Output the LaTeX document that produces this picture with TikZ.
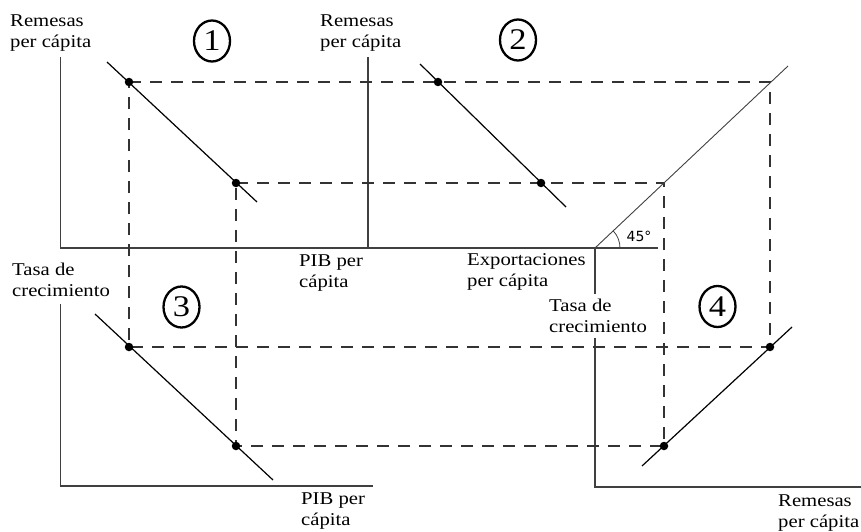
\documentclass[tikz,border=0pt]{standalone}
\usepackage{fontspec}
\setmainfont{Liberation Serif}[FakeStretch=1.15]
\newfontfamily\degfont{DejaVu Sans}
\usetikzlibrary{shapes.geometric,angles}

\begin{document}
\begin{tikzpicture}[
  x=1pt, y=-1pt,
  axis/.style={draw=black!75, line width=1.3pt},
  curve/.style={draw, line width=1.2pt},
  guide/.style={draw=black!80, line width=1.1pt, dash pattern=on 12pt off 9pt},
  dot/.style={circle, fill, inner sep=0pt, minimum size=8.5pt},
  tag/.style={draw, ellipse, line width=2.3pt, inner sep=0pt,
              minimum width=36pt, minimum height=41pt,
              font=\fontsize{30}{30}\selectfont},
  lbl/.style={anchor=north west, align=left, inner sep=0pt,
              font=\fontsize{18}{21}\selectfont}
]
  \useasboundingbox (0,0) rectangle (861,532);

  % axes
  \coordinate (y1)  at (60.5,57);
  \coordinate (o1)  at (60.5,248);
  \coordinate (y2)  at (368,57);
  \coordinate (o2)  at (368,248);
  \coordinate (o45) at (595,248);
  \coordinate (e45) at (658,248);
  \coordinate (y3)  at (60.5,304);
  \coordinate (o3)  at (60.5,486);
  \coordinate (x3)  at (373,486);
  \coordinate (o4)  at (595,487);
  \coordinate (x4)  at (861,487);
  \draw[axis] (y1) -- (o1) -- (e45);
  \draw[axis] (y2) -- (o2);
  \draw[axis] (o45) -- (o4) -- (x4);
  \draw[axis] (y3) -- (o3) -- (x3);

  % points
  \coordinate (a1)  at (129,82);
  \coordinate (b1)  at (236,183);
  \coordinate (a2)  at (438,82);
  \coordinate (b2)  at (541,183);
  \coordinate (a45) at (770,82);
  \coordinate (b45) at (664,183);
  \coordinate (a3)  at (129,347);
  \coordinate (b3)  at (236,446);
  \coordinate (a4)  at (770,347);
  \coordinate (b4)  at (664,446);

  % guides
  \draw[guide] (a1) -- (a2) -- (a45) -- (a4) -- (a3) -- cycle;
  \draw[guide] (b1) -- (b2) -- (b45) -- (b4) -- (b3) -- cycle;

  % curves
  \coordinate (c1s) at (107,62);  \coordinate (c1e) at (257,202);
  \coordinate (c2s) at (420,64);  \coordinate (c2e) at (566,207);
  \coordinate (c3s) at (95,314);  \coordinate (c3e) at (273,480);
  \coordinate (c4s) at (642,466); \coordinate (c4e) at (792,327);
  \coordinate (c45) at (788,66);
  \draw[curve] (c1s) -- (c1e);
  \draw[curve] (c2s) -- (c2e);
  \draw[curve] (c3s) -- (c3e);
  \draw[curve] (c4s) -- (c4e);
  \draw[axis, line width=0.9pt] (o45) -- (c45);
  \pic[draw=black!75, line width=0.8pt, angle radius=25pt] {angle = e45--o45--c45};
  \node[font=\degfont\fontsize{14}{14}\selectfont] (deg) at (639,236) {45°};

  \foreach \p in {a1,b1,a2,b2,a3,b3,a4,b4}
    \node[dot] (d\p) at (\p) {};

  % panel numbers
  \node[tag] (t1) at (212,41)      {1};
  \node[tag] (t2) at (518,40)      {2};
  \node[tag] (t3) at (181.5,307)   {3};
  \node[tag] (t4) at (717.5,306.5) {4};

  % axis labels
  \node[lbl] (ly1) at (10,15)   {Remesas\\per cápita};
  \node[lbl] (ly2) at (320,15)  {Remesas\\per cápita};
  \node[lbl] (lx1) at (299,255) {PIB per\\cápita};
  \node[lbl] (lx2) at (467,253) {Exportaciones\\per cápita};
  \node[lbl] (ly3) at (12,263)  {Tasa de\\crecimiento};
  \node[lbl, fill=white, inner ysep=5pt, inner xsep=2pt] (ly4) at (547,294)
       {Tasa de\\crecimiento};
  \node[lbl] (lx3) at (301,493) {PIB per\\cápita};
  \node[lbl] (lx4) at (778,495) {Remesas\\per cápita};
\end{tikzpicture}
\end{document}
